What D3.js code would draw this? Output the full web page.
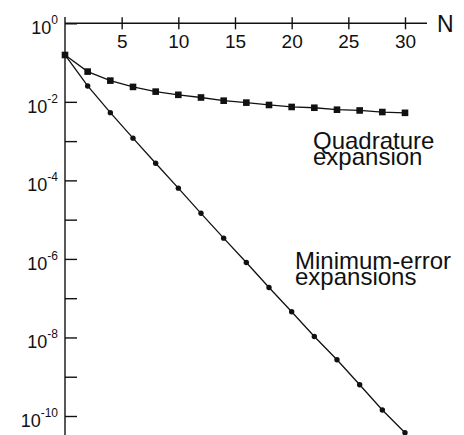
<!DOCTYPE html>
<html lang="en">
<head>
<meta charset="UTF-8">
<title>Quadrature vs minimum-error expansions</title>
<script src="https://cdn.jsdelivr.net/npm/d3@7"></script>
<style>
    html, body { margin: 0; padding: 0; background: #fff; }
    svg { display: block; font-family: "Liberation Sans", Arial, Helvetica, sans-serif; }
</style>
</head>
<body>
<div id="chart"></div>
<script>
// values
const nQuad = [0, 2, 4, 6, 8, 10, 12, 14, 16, 18, 20, 22, 24, 26, 28, 30];
const errQuad = [0.156, 0.0589, 0.0347, 0.0240, 0.0182, 0.0151, 0.0129, 0.0107,
    0.00955, 0.00832, 0.00741, 0.00708, 0.00631, 0.00603, 0.00550, 0.00525];
const nMin = [0, 2, 4, 6, 8, 10, 12, 14, 16, 18, 20, 22, 24, 26, 28, 30];
const errMin = [0.156, 0.0254, 5.31e-3, 1.19e-3, 2.74e-4, 6.34e-5, 1.45e-5, 3.38e-6,
    8.09e-7, 1.87e-7, 4.51e-8, 1.06e-8, 2.71e-9, 6.25e-10, 1.42e-10, 3.76e-11];
const xTicks = [5, 10, 15, 20, 25, 30];
const yMajor = [1, 1e-2, 1e-4, 1e-6, 1e-8, 1e-10];
const yMinor = [1e-3, 1e-5, 1e-7, 1e-9];
const yLabels = ['0', '-2', '-4', '-6', '-8', '-10'];

const w = 464, h = 435;
const ink = '#111';

const svg = d3.select('#chart').append('svg')
    .attr('width', w)
    .attr('height', h);

const x = d3.scaleLinear().domain([0, 30]).range([65, 405]);
const y = d3.scaleLog().domain([1, 1e-10]).range([23.3, 416]);

// x axis along the top (at 10^0), ticks crossing the line
const xAxis = d3.axisBottom(x).tickValues(xTicks).tickSize(6).tickSizeOuter(0).tickPadding(0);
const gx = svg.append('g')
    .attr('transform', `translate(0, ${y(1)})`)
    .call(xAxis);
gx.select('.domain').remove();
gx.selectAll('.tick line').attr('y1', -6).attr('y2', 6).attr('stroke', ink).attr('stroke-width', 1.4);
gx.selectAll('.tick text')
    .attr('y', 25).attr('dy', null)
    .attr('fill', ink)
    .style('font-size', '19px');
svg.append('line')
    .attr('x1', x(0)).attr('x2', 427)
    .attr('y1', y(1)).attr('y2', y(1))
    .attr('stroke', ink).attr('stroke-width', 1.4);

svg.append('text')
    .attr('x', 437).attr('y', 32)
    .attr('fill', ink)
    .style('font-size', '23px')
    .text('N');

// y axis, ticks pointing inward
const yAxis = d3.axisLeft(y).tickValues(yMajor.concat(yMinor)).tickSize(-12).tickSizeOuter(0).tickFormat('');
const gy = svg.append('g')
    .attr('transform', `translate(${x(0)}, 0)`)
    .call(yAxis);
gy.select('.domain').remove();
gy.selectAll('.tick line').attr('stroke', ink).attr('stroke-width', 1.4);
svg.append('line')
    .attr('x1', x(0)).attr('x2', x(0))
    .attr('y1', 17).attr('y2', h)
    .attr('stroke', ink).attr('stroke-width', 1.4);

const lab = svg.append('g').selectAll('text')
    .data(yMajor)
    .enter()
    .append('text')
    .attr('x', 58)
    .attr('y', d => y(d) + 11)
    .attr('text-anchor', 'end')
    .attr('fill', ink);
lab.append('tspan')
    .style('font-size', '18px')
    .text('10');
lab.append('tspan')
    .attr('dy', -10)
    .style('font-size', '12px')
    .text((d, i) => yLabels[i]);

// series
const line = d3.line().x(d => x(d[0])).y(d => y(d[1]));
const quad = nQuad.map((n, i) => [n, errQuad[i]]);
const minErr = nMin.map((n, i) => [n, errMin[i]]);

svg.append('path')
    .datum(minErr)
    .attr('d', line)
    .attr('fill', 'none')
    .attr('stroke', ink)
    .attr('stroke-width', 1.3);
svg.append('path')
    .datum(quad)
    .attr('d', line)
    .attr('fill', 'none')
    .attr('stroke', ink)
    .attr('stroke-width', 1.3);

svg.selectAll('circle.pt')
    .data(minErr)
    .enter()
    .append('circle')
    .attr('class', 'pt')
    .attr('cx', d => x(d[0]))
    .attr('cy', d => y(d[1]))
    .attr('r', 2.7)
    .attr('fill', ink);

const s = 6.6;
svg.selectAll('rect.pt')
    .data(quad)
    .enter()
    .append('rect')
    .attr('class', 'pt')
    .attr('x', d => x(d[0]) - s / 2)
    .attr('y', d => y(d[1]) - s / 2)
    .attr('width', s)
    .attr('height', s)
    .attr('fill', ink);

// annotations, two tight lines each
const note = (lines, x0, y0) => {
    svg.append('text')
        .attr('x', x0).attr('y', y0)
        .attr('fill', ink)
        .style('font-size', '24px')
        .selectAll('tspan')
        .data(lines)
        .enter()
        .append('tspan')
        .attr('x', x0)
        .attr('dy', (d, i) => i === 0 ? 0 : 16)
        .text(d => d);
};
note(['Quadrature', 'expansion'], 313, 149);
note(['Minimum-error', 'expansions'], 295, 269);
</script>
</body>
</html>
